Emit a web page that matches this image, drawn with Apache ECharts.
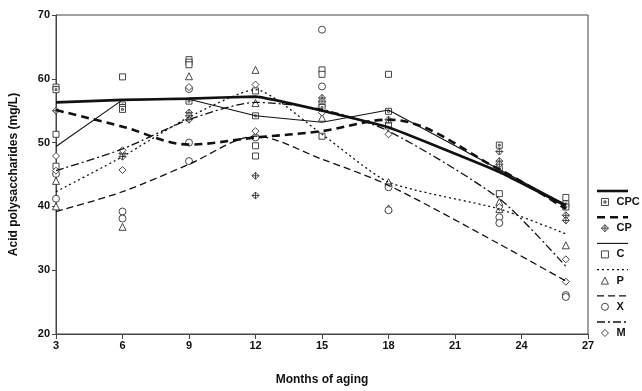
<!DOCTYPE html>
<html>
<head>
<meta charset="utf-8">
<script src="https://cdn.jsdelivr.net/npm/echarts@6/dist/echarts.min.js"></script>
<style>
  html, body { margin: 0; padding: 0; background: #fff; }
  #chart { width: 642px; height: 391px; }
</style>
</head>
<body>
<div id="chart"></div>
<script>
// Sampling months and fitted mean curves (mg/L) for each treatment
const months = [3, 6, 9, 12, 15, 18, 23, 26];
const cpcMean = [56.3, 56.7, 56.9, 57.2, 55.0, 52.4, 45.4, 40.1];
const cpMean  = [55.1, 52.5, 49.7, 50.8, 51.8, 53.6, 45.8, 39.6];
const cMean   = [49.4, 56.7, 56.8, 54.2, 53.2, 55.1, 45.8, 40.3];
const pMean   = [42.3, 47.8, 54.0, 58.3, 51.3, 43.8, 39.6, 35.7];
const xMean   = [39.2, 42.3, 46.6, 51.0, 47.4, 43.3, 34.1, 28.3];
const mMean   = [45.6, 49.0, 53.6, 56.3, 55.2, 51.8, 41.2, 30.6];

// Individual replicate measurements [month, value]
const cpcReps = [[3,58.7],[3,58.3],[6,55.9],[6,55.5],[6,55.2],[9,56.5],[12,54.2],[15,56.0],[15,55.5],[18,54.9],[23,49.6],[23,45.9],[26,40.4],[26,39.9]];
const cpReps  = [[3,55.0],[6,48.3],[6,47.8],[9,54.7],[9,54.2],[9,53.6],[12,44.8],[12,41.7],[15,57.0],[15,56.5],[18,53.6],[18,53.1],[23,48.6],[23,47.1],[23,46.6],[26,38.6],[26,37.8]];
const cReps   = [[3,51.3],[3,46.3],[6,60.3],[9,63.0],[9,62.6],[9,62.2],[12,58.1],[12,49.5],[12,47.9],[15,61.4],[15,60.7],[15,51.0],[18,60.7],[18,52.6],[23,42.0],[26,41.4]];
const pReps   = [[3,44.0],[3,40.0],[6,36.8],[9,60.4],[12,61.4],[12,56.2],[15,53.9],[18,43.8],[18,39.7],[23,40.7],[23,39.6],[26,33.9]];
const xReps   = [[3,45.1],[3,41.2],[6,39.2],[6,38.1],[9,58.4],[9,50.0],[9,47.1],[12,50.8],[15,67.7],[15,58.8],[18,43.0],[18,39.4],[23,38.3],[23,37.4],[26,26.1],[26,25.8]];
const mReps   = [[3,47.9],[3,45.6],[6,48.8],[6,45.7],[9,58.7],[12,59.1],[12,51.8],[15,54.7],[18,51.3],[23,39.9],[26,31.7],[26,28.2]];

const groupNames = ['CPC', 'CP', 'C', 'P', 'X', 'M'];
const yTicks = [20, 30, 40, 50, 60, 70];
const xTicks = [3, 6, 9, 12, 15, 18, 21, 24, 27];

const means = [cpcMean, cpMean, cMean, pMean, xMean, mMean];
const reps = [cpcReps, cpReps, cReps, pReps, xReps, mReps];

const INK = '#111';
const FONT = 'Liberation Sans, Arial, sans-serif';
const symbols = [
  'path://M0,0L10,0L10,10L0,10Z M3.5,3.5L6.5,3.5L6.5,6.5L3.5,6.5Z',
  'path://M5,0L10,5L5,10L0,5Z M5,0L5,10 M0,5L10,5',
  'rect',
  'triangle',
  'circle',
  'diamond'
];
const symbolSizes = [6, 7, 6, 7, 7, 7];
const smoothness = [0.1, 0.35, 0, 0.2, 0.3, 0.25];
const lineStyles = [
  { width: 2.6, type: 'solid' },
  { width: 2.6, type: [8, 5] },
  { width: 1.1, type: 'solid' },
  { width: 1.3, type: [2, 3] },
  { width: 1.3, type: [7, 4] },
  { width: 1.3, type: [8, 3, 2, 3] }
];
const markerStyle = { color: '#fff', borderColor: '#333', borderWidth: 0.9, opacity: 1 };

const series = [];
groupNames.forEach((name, i) => {
  series.push({
    name: name + ' fit',
    type: 'line',
    data: months.map((m, k) => [m, means[i][k]]),
    smooth: smoothness[i],
    showSymbol: false,
    symbol: 'none',
    silent: true,
    z: 3,
    lineStyle: { color: INK, width: lineStyles[i].width, type: lineStyles[i].type }
  });
  series.push({
    name: name,
    type: 'scatter',
    data: reps[i],
    symbol: symbols[i],
    symbolSize: symbolSizes[i],
    z: 2,
    itemStyle: markerStyle
  });
});

// Legend line samples drawn above each legend marker
const legendTop = 195.5;
const rowGap = 26.2;
const graphics = groupNames.map((name, i) => ({
  type: 'line',
  silent: true,
  shape: { x1: 597, y1: 191 + i * rowGap, x2: 628, y2: 191 + i * rowGap },
  style: {
    stroke: INK,
    lineWidth: lineStyles[i].width,
    lineDash: Array.isArray(lineStyles[i].type) ? lineStyles[i].type : null
  }
}));

const chart = echarts.init(document.getElementById('chart'), null, { renderer: 'canvas' });
chart.setOption({
  animation: false,
  backgroundColor: '#fff',
  grid: { left: 56, right: 54, top: 15, bottom: 55, show: true, borderColor: '#444', borderWidth: 1 },
  xAxis: {
    type: 'value',
    min: 3, max: 27, interval: 3,
    name: 'Months of aging',
    nameLocation: 'middle',
    nameGap: 40,
    nameTextStyle: { fontFamily: FONT, fontSize: 12, fontWeight: 'bold', color: INK },
    axisLine: { show: true, lineStyle: { color: '#444', width: 1 } },
    axisTick: { show: true, inside: false, length: 5, lineStyle: { color: '#444' } },
    axisLabel: { fontFamily: FONT, fontSize: 11, fontWeight: 'bold', color: INK, margin: 6,
      formatter: v => xTicks.includes(v) ? String(v) : '' },
    splitLine: { show: false }
  },
  yAxis: {
    type: 'value',
    min: 20, max: 70, interval: 10,
    name: 'Acid polysaccharides (mg/L)',
    nameLocation: 'middle',
    nameGap: 36,
    nameTextStyle: { fontFamily: FONT, fontSize: 12, fontWeight: 'bold', color: INK },
    axisLine: { show: true, lineStyle: { color: '#444', width: 1 } },
    axisTick: { show: true, inside: false, length: 4, lineStyle: { color: '#444' } },
    axisLabel: { fontFamily: FONT, fontSize: 11, fontWeight: 'bold', color: INK, margin: 6,
      formatter: v => yTicks.includes(v) ? String(v) : '' },
    splitLine: { show: false }
  },
  legend: {
    data: groupNames,
    orient: 'vertical',
    left: 601,
    top: legendTop,
    padding: 0,
    itemWidth: 7,
    itemHeight: 7,
    itemGap: rowGap - 13,
    selectedMode: false,
    itemStyle: { color: '#fff', borderColor: '#333', borderWidth: 0.9 },
    textStyle: { fontFamily: FONT, fontSize: 11, fontWeight: 'bold', color: INK, padding: [0, 0, 0, 3], lineHeight: 13 }
  },
  graphic: graphics,
  series: series
});
</script>
</body>
</html>
